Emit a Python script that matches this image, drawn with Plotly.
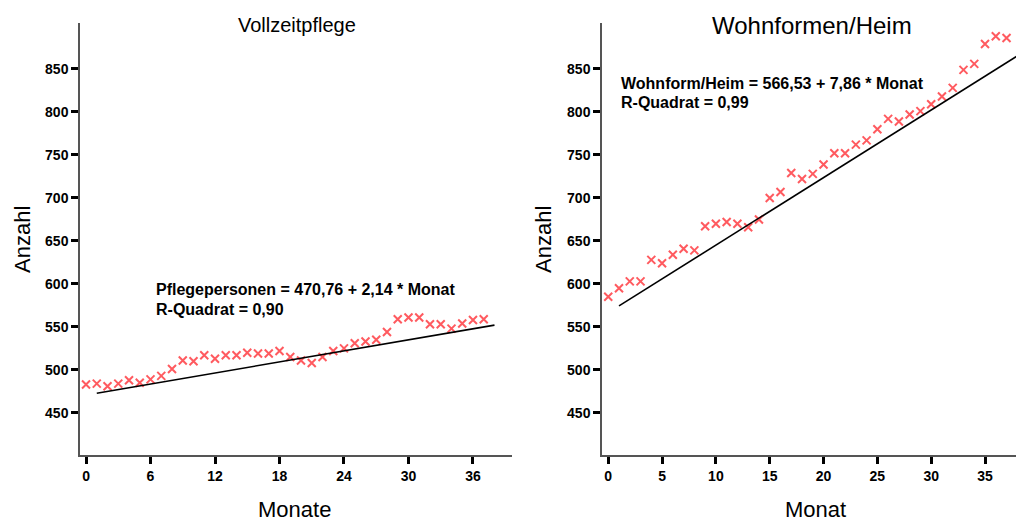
import plotly.graph_objects as go

# ---- data ----
months = list(range(38))
vollzeit = [483, 484, 481, 484, 488, 485, 489, 493, 501, 511, 510, 517, 513, 517, 517, 520, 519, 519,
            522, 515, 511, 508, 515, 522, 525, 531, 533, 535, 544, 559, 561, 561, 553, 553, 548, 554,
            558, 559]
wohnform = [585, 595, 603, 603, 628, 624, 634, 641, 639, 667, 670, 672, 670, 666, 675, 700, 707, 729,
            722, 728, 739, 752, 752, 762, 767, 780, 792, 789, 797, 801, 809, 818, 828, 849, 856, 879,
            888, 886]
# regression coefficients (intercept, slope)
reg_vollzeit = (470.76, 2.14)
reg_wohnform = (566.53, 7.86)
fit_months = list(range(1, 39))

left_xticks = [0, 6, 12, 18, 24, 30, 36]
right_xticks = [0, 5, 10, 15, 20, 25, 30, 35]
yticks = [450, 500, 550, 600, 650, 700, 750, 800, 850]

W, H = 1024, 522
OFF = 8  # page body margin
FONT = "Liberation Sans, Arial, sans-serif"
MARK = "#ff5a5f"

fig = go.Figure()

def add_panel(xref, yref, y, coef):
    fig.add_trace(go.Scatter(x=months, y=y, mode="markers", xaxis=xref, yaxis=yref,
                             marker=dict(symbol="x-thin-open", size=8, color=MARK,
                                         line=dict(color=MARK, width=2)),
                             showlegend=False, hoverinfo="x+y"))
    fig.add_trace(go.Scatter(x=fit_months, y=[coef[0] + coef[1] * m for m in fit_months],
                             mode="lines", xaxis=xref, yaxis=yref,
                             line=dict(color="black", width=1.6), showlegend=False))

add_panel("x", "y", vollzeit, reg_vollzeit)
add_panel("x2", "y2", wohnform, reg_wohnform)

def px(v):
    return (v - OFF) / W
def py(v):
    return 1 - (v - OFF) / H

axis_common = dict(showgrid=False, zeroline=False, showline=True, linecolor="#555555", linewidth=1.5,
                   ticks="outside", ticklen=7, tickwidth=3, tickcolor="black",
                   tickfont=dict(family=FONT, size=14, color="black", weight="bold"))

fig.update_layout(
    width=W, height=H, paper_bgcolor="white", plot_bgcolor="white",
    margin=dict(l=0, r=0, t=0, b=0),
    xaxis=dict(domain=[px(80), px(512)], range=[-0.56, 39.63], tickvals=left_xticks,
               anchor="y", **axis_common),
    yaxis=dict(domain=[py(455), py(23)], range=[401, 903.5], tickvals=yticks,
               anchor="x", **axis_common),
    xaxis2=dict(domain=[px(602), px(1020)], range=[-0.58, 38.25], tickvals=right_xticks,
                anchor="y2", **axis_common),
    yaxis2=dict(domain=[py(455), py(23)], range=[401, 903.5], tickvals=yticks,
                anchor="x2", **axis_common),
)

def txt(x, y, s, size, bold=False, xanchor="center", angle=0):
    fig.add_annotation(x=px(x), y=py(y), xref="paper", yref="paper", text=s, showarrow=False,
                       xanchor=xanchor, yanchor="middle", textangle=angle, align="left",
                       font=dict(family=FONT, size=size, color="black",
                                 weight="bold" if bold else "normal"))

txt(297, 25, "Vollzeitpflege", 20)
txt(812, 25, "Wohnformen/Heim", 24)
txt(22, 240, "Anzahl", 22, angle=-90)
txt(543, 240, "Anzahl", 22, angle=-90)
txt(294, 509, "Monate", 22)
txt(815, 509, "Monat", 22)
txt(154, 289, "Pflegepersonen = 470,76 + 2,14 * Monat", 16, bold=True, xanchor="left")
txt(154, 309, "R-Quadrat = 0,90", 16, bold=True, xanchor="left")
txt(619, 83, "Wohnform/Heim = 566,53 + 7,86 * Monat", 16, bold=True, xanchor="left")
txt(619, 103, "R-Quadrat = 0,99", 16, bold=True, xanchor="left")

fig.write_html("out.html")
